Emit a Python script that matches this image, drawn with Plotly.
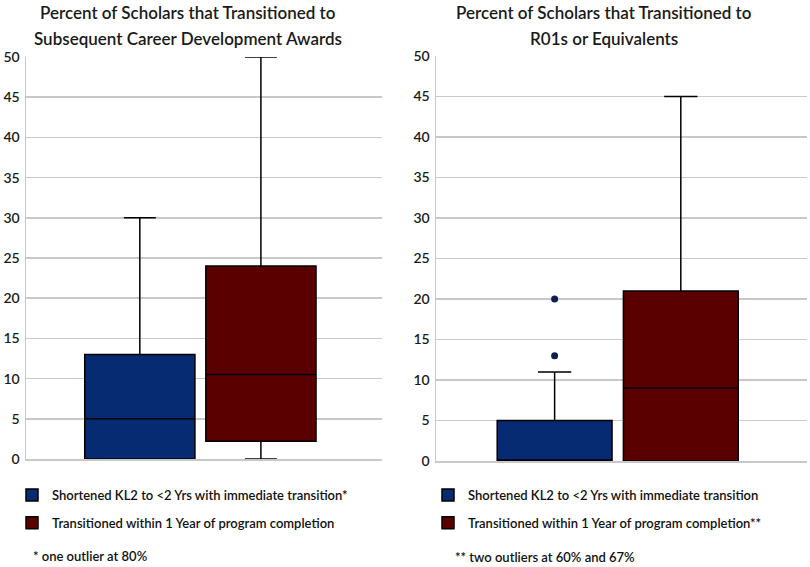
import plotly.graph_objects as go

# ---- data ----
groups = ["Shortened KL2 to <2 Yrs with immediate transition",
          "Transitioned within 1 Year of program completion"]
# Left panel: subsequent career development awards
cda_q1 = [0, 2.2]
cda_median = [5, 10.5]
cda_q3 = [13, 24]
cda_low = [0, 0]
cda_high = [30, 50]
# Right panel: R01s or equivalents
r01_q1 = [0, 0]
r01_median = [0, 9]
r01_q3 = [5, 21]
r01_low = [0, 0]
r01_high = [11, 45]
r01_outliers_short = [13, 20]

left_names = [groups[0] + "*", groups[1]]
right_names = [groups[0], groups[1] + "**"]
colors = ["#062b72", "#5a0000"]
yticks = list(range(0, 55, 5))

left_title = ["Percent of Scholars that Transitioned to", "Subsequent Career Development Awards"]
right_title = ["Percent of Scholars that Transitioned to", "R01s or Equivalents"]

FONT = "Lato, 'Open Sans', sans-serif"
W, H = 810, 567

fig = go.Figure()

def add_boxes(xaxis, yaxis, q1, med, q3, lo, hi, names, legend, grp):
    for i in range(2):
        fig.add_trace(go.Box(
            x=[i], q1=[q1[i]], median=[med[i]], q3=[q3[i]],
            lowerfence=[lo[i]], upperfence=[hi[i]],
            width=0.91, whiskerwidth=0.29,
            fillcolor=colors[i], line=dict(color="#000000", width=1.5),
            name=names[i], boxpoints=False, hoverinfo="skip",
            xaxis=xaxis, yaxis=yaxis, legend=legend,
            legendgroup=grp + str(i),
        ))

add_boxes("x", "y", cda_q1, cda_median, cda_q3, cda_low, cda_high, left_names, "legend", "L")
add_boxes("x2", "y2", r01_q1, r01_median, r01_q3, r01_low, r01_high, right_names, "legend2", "R")

fig.add_trace(go.Scatter(
    x=[0] * len(r01_outliers_short), y=r01_outliers_short, mode="markers",
    marker=dict(color="#0c1f4d", size=7), showlegend=False, hoverinfo="skip",
    xaxis="x2", yaxis="y2"))

def px_x(p):
    return p / W

def px_y(p):
    return 1 - p / H

axis_y = dict(range=[0, 50], tickvals=yticks, showgrid=True, gridcolor="#c8c8c8",
              gridwidth=1.5, showline=True, linecolor="#c8c8c8", linewidth=1.5,
              zeroline=False, ticks="", fixedrange=True, automargin=False,
              tickfont=dict(family=FONT, size=14, color="#1a1a1a", weight=600),
              ticklabelstandoff=2)
axis_x = dict(range=[-0.94, 2.0], showgrid=False, showline=True, linecolor="#c8c8c8",
              linewidth=1.5, zeroline=False, showticklabels=False, ticks="",
              fixedrange=True, automargin=False)

leg_common = dict(xanchor="left", yanchor="top", bgcolor="rgba(0,0,0,0)",
                  font=dict(family=FONT, size=13, color="#111111", weight=600),
                  tracegroupgap=8, itemclick=False, itemdoubleclick=False)

fig.update_layout(
    width=W, height=H, margin=dict(l=0, r=0, t=0, b=0, autoexpand=False),
    paper_bgcolor="white", plot_bgcolor="white",
    xaxis=dict(domain=[px_x(26), px_x(382)], anchor="y", **axis_x),
    yaxis=dict(domain=[px_y(459), px_y(57)], anchor="x", **axis_y),
    xaxis2=dict(domain=[px_x(436), px_x(807)], anchor="y2", **axis_x),
    yaxis2=dict(domain=[px_y(461), px_y(56)], anchor="x2", **axis_y),
    legend=dict(x=px_x(12), y=px_y(480), **leg_common),
    legend2=dict(x=px_x(428), y=px_y(480), **leg_common),
    showlegend=True,
    font=dict(family=FONT),
)

title_font = dict(family=FONT, size=17, color="#1a1a1a", weight=600)
for cx, lines in ((188, left_title), (604, right_title)):
    for yy, line in zip((12, 38), lines):
        fig.add_annotation(text=line, x=px_x(cx), y=px_y(yy), xref="paper", yref="paper",
                           showarrow=False, xanchor="center", yanchor="middle", font=title_font)

note_font = dict(family=FONT, size=13, color="#111111", weight=600)
fig.add_annotation(text="* one outlier at 80%", x=px_x(31), y=px_y(556), xref="paper", yref="paper",
                   showarrow=False, xanchor="left", yanchor="middle", font=note_font)
fig.add_annotation(text="** two outliers at 60% and 67%", x=px_x(453), y=px_y(557), xref="paper", yref="paper",
                   showarrow=False, xanchor="left", yanchor="middle", font=note_font)

fig.write_html("out.html", config={"displayModeBar": False, "staticPlot": True},
               post_script="document.body.style.margin='0';document.body.style.overflow='hidden';")
